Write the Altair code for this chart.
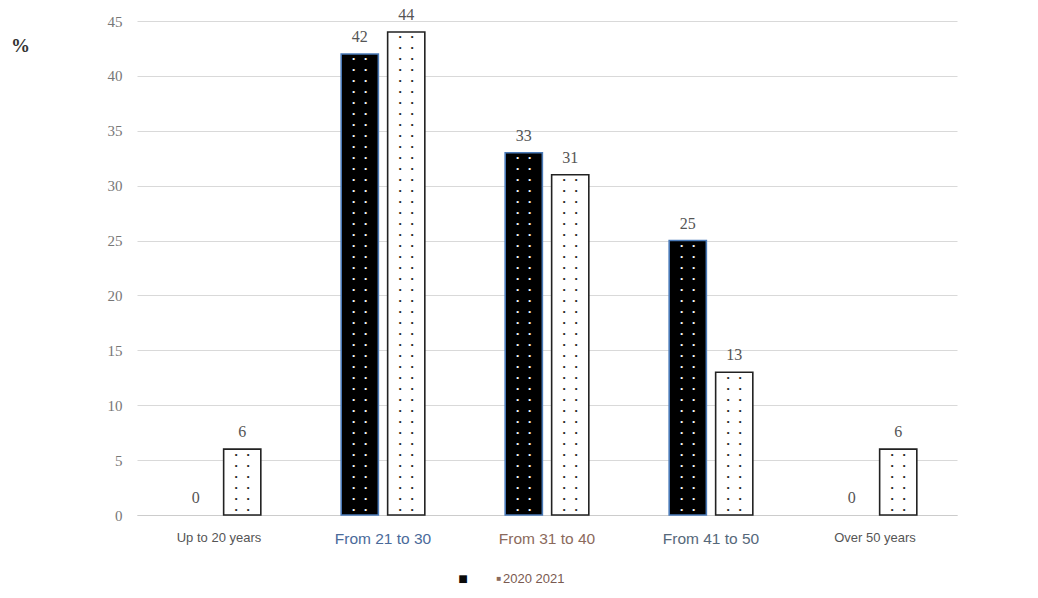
import altair as alt
import pandas as pd

categories = ["Up to 20 years", "From 21 to 30", "From 31 to 40", "From 41 to 50", "Over 50 years"]
values_2020 = [0, 42, 33, 25, 0]
values_2021 = [6, 44, 31, 13, 6]
y_ticks = [0, 5, 10, 15, 20, 25, 30, 35, 40, 45]

rows = []
for c, a, b in zip(categories, values_2020, values_2021):
    rows.append({"cat": c, "year": "2020", "value": a})
    rows.append({"cat": c, "year": "2021", "value": b})
df = pd.DataFrame(rows)

label_color = {
    "condition": [
        {"test": "datum.value === 'From 21 to 30'", "value": "#4a6a9a"},
        {"test": "datum.value === 'From 31 to 40'", "value": "#8b6a5c"},
        {"test": "datum.value === 'From 41 to 50'", "value": "#56687a"},
    ],
    "value": "#555555",
}
label_size = {
    "condition": {"test": "indexof(datum.value, 'From') === 0", "value": 15.5},
    "value": 13,
}

x = alt.X("cat:N", sort=categories, title=None,
          scale=alt.Scale(paddingInner=0.49, paddingOuter=0.245),
          axis=alt.Axis(labelAngle=0, ticks=False, domain=True, domainColor="#cccccc",
                        labelPadding=16, labelFont="Liberation Sans",
                        labelColor=label_color, labelFontSize=label_size))
xo = alt.XOffset("year:N", scale=alt.Scale(paddingInner=0.2, paddingOuter=0))
y = alt.Y("value:Q", scale=alt.Scale(domain=[0, 45]), title=None,
          axis=alt.Axis(values=y_ticks, ticks=False, domain=False, labelPadding=15,
                        labelFont="Liberation Serif", labelFontSize=15, labelColor="#777777",
                        gridColor="#d9d9d9", gridWidth=1.2))

base = alt.Chart(df)

bars = base.transform_filter("datum.value > 0").mark_bar(strokeWidth=1.6).encode(
    x=x, xOffset=xo, y=y,
    fill=alt.Fill("year:N", scale=alt.Scale(domain=["2020", "2021"], range=["#000000", "#ffffff"]), legend=None),
    stroke=alt.Stroke("year:N", scale=alt.Scale(domain=["2020", "2021"], range=["#4a7ab8", "#222222"]), legend=None),
)

dot_base = base.transform_filter("datum.value > 0").transform_calculate(
    dots="sequence(0.5, datum.value, 1)"
).transform_flatten(["dots"])

def dot_layer(dx):
    return dot_base.mark_text(text="•", fontSize=8, dx=dx, baseline="middle").encode(
        x=alt.X("cat:N", sort=categories),
        xOffset="year:N",
        y="dots:Q",
        color=alt.Color("year:N", scale=alt.Scale(domain=["2020", "2021"], range=["#ffffff", "#222222"]), legend=None),
    )

labels = base.mark_text(baseline="bottom", dy=-9, font="Liberation Serif", fontSize=16, color="#555555").encode(
    x=alt.X("cat:N", sort=categories), xOffset="year:N", y="value:Q", text="value:Q"
)

pct = alt.Chart(pd.DataFrame({"t": ["%"]})).mark_text(
    font="Liberation Serif", fontSize=19, fontWeight="bold", color="#333333", align="left"
).encode(x=alt.value(-126), y=alt.value(25), text="t:N")

legend_black = alt.Chart(pd.DataFrame({"t": ["■"]})).mark_text(
    fontSize=16, color="#0a0a0a"
).encode(x=alt.value(326), y=alt.value(558), text="t:N")
legend_small = alt.Chart(pd.DataFrame({"t": ["■"]})).mark_text(
    fontSize=8, color="#8b6a5c"
).encode(x=alt.value(362), y=alt.value(558), text="t:N")
legend_text = alt.Chart(pd.DataFrame({"t": ["2020 2021"]})).mark_text(
    font="Liberation Sans", fontSize=13, color="#7a5a50", align="left"
).encode(x=alt.value(366), y=alt.value(558), text="t:N")

chart = alt.layer(
    bars, dot_layer(-6), dot_layer(6), labels, pct, legend_black, legend_small, legend_text
).properties(
    width=820, height=494,
    autosize=alt.AutoSizeParams(type="none"),
    padding={"left": 137, "top": 21, "right": 81, "bottom": 83},
).configure(background="white").configure_view(stroke=None)

chart.save("out.html", embed_options={"renderer": "svg", "actions": False})
